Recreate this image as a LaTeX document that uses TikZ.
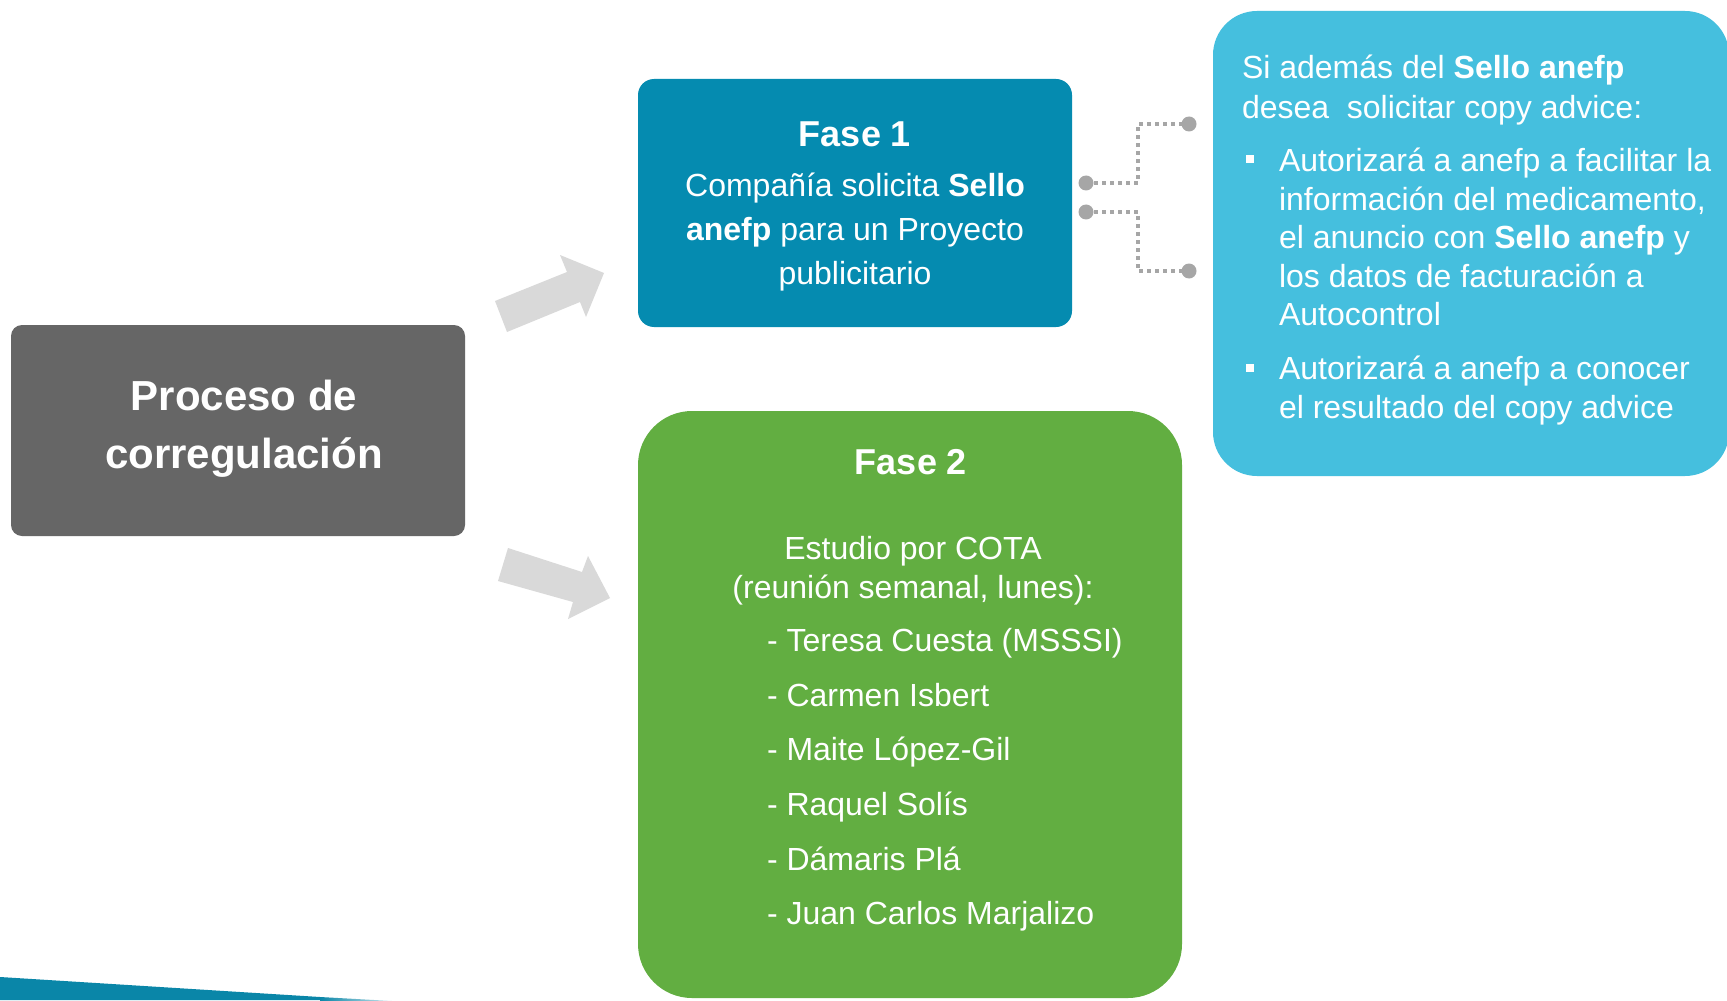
\documentclass[tikz,border=0pt]{standalone}
\usepackage{fontspec}
\setmainfont{Liberation Sans}
\definecolor{boxgray}{HTML}{666666}
\definecolor{faseone}{HTML}{058BB0}
\definecolor{fasetwo}{HTML}{62AE41}
\definecolor{infoblue}{HTML}{45BFDE}
\definecolor{arrowgray}{HTML}{D9D9D9}
\definecolor{dotgray}{HTML}{A6A6A6}
\definecolor{strip}{HTML}{0A86A8}
\tikzset{
  panel/.style={inner sep=0pt, outer sep=0pt, draw=none},
  txt/.style={inner sep=0pt, outer sep=0pt, text=white},
  dotline/.style={draw=dotgray, line width=2pt, dash pattern=on 2pt off 2pt},
  enddot/.style={circle, fill=dotgray, inner sep=0pt, minimum size=7.5pt},
  bul/.style={fill=white, inner sep=0pt, minimum size=4pt},
  blockarrow/.style={fill=arrowgray}
}
\begin{document}
\begin{tikzpicture}[x=0.5pt,y=-0.5pt]
\useasboundingbox (0,0) rectangle (1727,1000);
\fill[white] (0,0) rectangle (1727,1000);

% bottom-left strip
\fill[strip] (0,977) -- (320,997) -- (320,1000) -- (0,1000) -- cycle;
\shade[left color=strip, right color=white] (320,997) -- (410,1002) -- (320,1002) -- cycle;

% main box
\node[panel, fill=boxgray, rounded corners=5.5pt, minimum width=227pt, minimum height=105.5pt] (proc) at (238,430.5) {};
\node[txt, align=center, font=\bfseries\fontsize{21}{29}\selectfont] (proct) at (244,428.5) {Proceso de\\corregulación};

% block arrows
\fill[blockarrow] (495,301) -- (567,272) -- (560,255) -- (604,273) -- (586,317) -- (580,302) -- (507,332) -- cycle;
\fill[blockarrow] (508,548) -- (582,572) -- (588,556) -- (610,598) -- (568,619) -- (573,602) -- (498,581) -- cycle;

% Fase 1
\node[panel, fill=faseone, rounded corners=8pt, minimum width=217pt, minimum height=124pt] (f1) at (855,203) {};
\node[txt, font=\bfseries\fontsize{18}{22}\selectfont] (f1t) at (855,134) {Fase 1};
\node[txt, align=center, font=\fontsize{16}{22}\selectfont] (f1b) at (855,232.5) {Compañía solicita \textbf{Sello}\\\textbf{anefp} para un Proyecto\\publicitario};

% Fase 2
\node[panel, fill=fasetwo, rounded corners=27pt, minimum width=272pt, minimum height=293.5pt] (f2) at (910,704.5) {};
\node[txt, font=\bfseries\fontsize{18}{22}\selectfont] (f2t) at (911,462) {Fase 2};
\node[txt, align=center, font=\fontsize{16}{19.5}\selectfont] (f2s) at (913,571) {Estudio por COTA\\(reunión semanal, lunes):};
\node[txt, anchor=west, align=left, font=\fontsize{16}{27.3}\selectfont] (f2l) at (767,780) {- Teresa Cuesta (MSSSI)\\- Carmen Isbert\\- Maite López-Gil\\- Raquel Solís\\- Dámaris Plá\\- Juan Carlos Marjalizo};

% info box
\node[panel, fill=infoblue, rounded corners=22pt, minimum width=258pt, minimum height=232.5pt] (info) at (1471,243.5) {};
\node[txt, anchor=west, align=left, font=\fontsize{16}{20}\selectfont] (infoh) at (1242,90.5) {Si además del \textbf{Sello anefp}\\desea~~solicitar copy advice:};
\node[bul] (b1) at (1250,159) {};
\node[txt, anchor=west, align=left, font=\fontsize{16}{19.25}\selectfont] (i1) at (1279,237) {Autorizará a anefp a facilitar la\\información del medicamento,\\el anuncio con \textbf{Sello anefp} y\\los datos de facturación a\\Autocontrol};
\node[bul] (b2) at (1250,368) {};
\node[txt, anchor=west, align=left, font=\fontsize{16}{19.25}\selectfont] (i2) at (1279,390.5) {Autorizará a anefp a conocer\\el resultado del copy advice};

% dotted connectors
\coordinate (c1) at (1086,183);
\coordinate (c2) at (1086,212);
\coordinate (c3) at (1189,124);
\coordinate (c4) at (1189,271);
\draw[dotline] (c1) -- ++(52,0) |- (c3);
\draw[dotline] (c2) -- ++(52,0) |- (c4);
\node[enddot] (p1) at (c1) {};
\node[enddot] (p2) at (c2) {};
\node[enddot] (p3) at (c3) {};
\node[enddot] (p4) at (c4) {};
\end{tikzpicture}
\end{document}
